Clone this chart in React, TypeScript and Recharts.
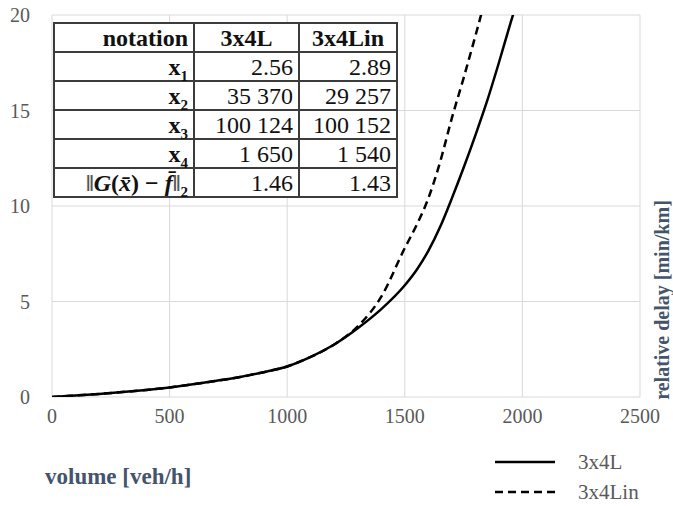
import React from "react";
import { LineChart, Line, XAxis, YAxis, CartesianGrid } from "recharts";

// volume [veh/h] and relative delay [min/km]
const volume = [0, 100, 200, 300, 400, 500, 600, 700, 800, 900, 1000, 1100, 1200, 1300, 1400, 1500, 1550, 1600, 1650, 1700, 1750, 1800, 1850, 1900, 1950, 2000];
const delay3x4L = [0, 0.08, 0.16, 0.26, 0.37, 0.5, 0.67, 0.85, 1.05, 1.3, 1.6, 2.1, 2.75, 3.6, 4.6, 5.85, 6.65, 7.65, 8.9, 10.4, 12.0, 13.7, 15.5, 17.5, 19.6, 21.6];
const delay3x4Lin = [0, 0.08, 0.16, 0.26, 0.37, 0.5, 0.67, 0.85, 1.05, 1.3, 1.6, 2.1, 2.75, 3.7, 5.25, 7.8, 9.0, 10.4, 12.3, 14.6, 16.7, 18.9, 21.2, null, null, null];

const xTicks = [0, 500, 1000, 1500, 2000, 2500];
const yTicks = [0, 5, 10, 15, 20];

// parameter table
const tableHeader = ["notation", "3x4L", "3x4Lin"];
const paramIndex = ["1", "2", "3", "4"];
const params3x4L = ["2.56", "35 370", "100 124", "1 650", "1.46"];
const params3x4Lin = ["2.89", "29 257", "100 152", "1 540", "1.43"];

const data = volume.map((v, i) => ({
  volume: v,
  l: delay3x4L[i],
  lin: delay3x4Lin[i],
}));

const serif = "Liberation Serif, DejaVu Serif, Noto Serif, serif";
const tickStyle = { fill: "#595959", fontSize: 20, fontFamily: serif };
const cell: React.CSSProperties = {
  border: "2px solid #3c3c3c",
  padding: "0 5px",
  height: 27,
  textAlign: "right",
  whiteSpace: "nowrap",
};

function ParamTable() {
  return (
    <table
      style={{
        position: "absolute",
        left: 53,
        top: 22,
        width: 345,
        borderCollapse: "collapse",
        background: "#fff",
        fontFamily: serif,
        fontSize: 24,
        lineHeight: "26px",
        color: "#111",
      }}
    >
      <tbody>
        <tr>
          <td style={{ ...cell, width: 128, fontWeight: "bold" }}>{tableHeader[0]}</td>
          <td style={{ ...cell, width: 93, fontWeight: "bold", textAlign: "center" }}>{tableHeader[1]}</td>
          <td style={{ ...cell, fontWeight: "bold", textAlign: "center" }}>{tableHeader[2]}</td>
        </tr>
        {paramIndex.map((p, i) => (
          <tr key={p}>
            <td style={{ ...cell, fontWeight: "bold" }}>
              x<sub style={{ fontSize: 15, lineHeight: 0 }}>{p}</sub>
            </td>
            <td style={cell}>{params3x4L[i]}</td>
            <td style={cell}>{params3x4Lin[i]}</td>
          </tr>
        ))}
        <tr>
          <td style={{ ...cell, fontWeight: "bold" }}>
            <span style={{ color: "#555" }}>‖</span>
            <i>G</i>(<i>x̄</i>) − <i>f̄</i>
            <span style={{ color: "#555" }}>‖</span>
            <sub style={{ fontSize: 15, lineHeight: 0 }}>2</sub>
          </td>
          <td style={cell}>{params3x4L[4]}</td>
          <td style={cell}>{params3x4Lin[4]}</td>
        </tr>
      </tbody>
    </table>
  );
}

function LegendBox() {
  const rows = [
    { name: "3x4L", dash: undefined as string | undefined, y: 462 },
    { name: "3x4Lin", dash: "8 5", y: 492 },
  ];
  return (
    <>
      {rows.map((r) => (
        <div key={r.name} style={{ position: "absolute", left: 495, top: r.y - 14, height: 28, display: "flex", alignItems: "center" }}>
          <svg width={62} height={28}>
            <line x1={0} x2={60} y1={14} y2={14} stroke="#000" strokeWidth={2.5} strokeDasharray={r.dash} />
          </svg>
          <span style={{ marginLeft: 21, fontFamily: serif, fontSize: 21, color: "#595959" }}>{r.name}</span>
        </div>
      ))}
    </>
  );
}

export default function App() {
  return (
    <div style={{ position: "fixed", left: 0, top: 0, width: 673, height: 506, background: "#fff", overflow: "hidden" }}>
      <LineChart width={673} height={506} data={data} margin={{ top: 15, right: 33, left: 6, bottom: 79 }}>
        <CartesianGrid stroke="#d9d9d9" strokeWidth={1} />
        <XAxis
          dataKey="volume"
          type="number"
          domain={[0, 2500]}
          ticks={xTicks}
          interval={0}
          axisLine={false}
          tickLine={false}
          tickSize={0}
          tickMargin={12}
          height={30}
          tick={tickStyle}
        />
        <YAxis
          type="number"
          domain={[0, 20]}
          ticks={yTicks}
          interval={0}
          allowDataOverflow
          axisLine={false}
          tickLine={false}
          tickSize={0}
          tickMargin={22}
          width={46}
          tick={tickStyle}
        />
        <Line type="monotone" dataKey="l" stroke="#000" strokeWidth={2.5} dot={false} isAnimationActive={false} />
        <Line type="monotone" dataKey="lin" stroke="#000" strokeWidth={2.5} strokeDasharray="8 5" dot={false} isAnimationActive={false} />
      </LineChart>
      <ParamTable />
      <div
        style={{
          position: "absolute",
          left: 662,
          top: 300,
          transform: "translate(-50%, -50%) rotate(-90deg)",
          whiteSpace: "nowrap",
          fontFamily: serif,
          fontWeight: "bold",
          fontSize: 20,
          color: "#44546a",
        }}
      >
        relative delay [min/km]
      </div>
      <div
        style={{
          position: "absolute",
          left: 45,
          top: 464,
          whiteSpace: "nowrap",
          fontFamily: serif,
          fontWeight: "bold",
          fontSize: 23,
          color: "#44546a",
        }}
      >
        volume [veh/h]
      </div>
      <LegendBox />
    </div>
  );
}
